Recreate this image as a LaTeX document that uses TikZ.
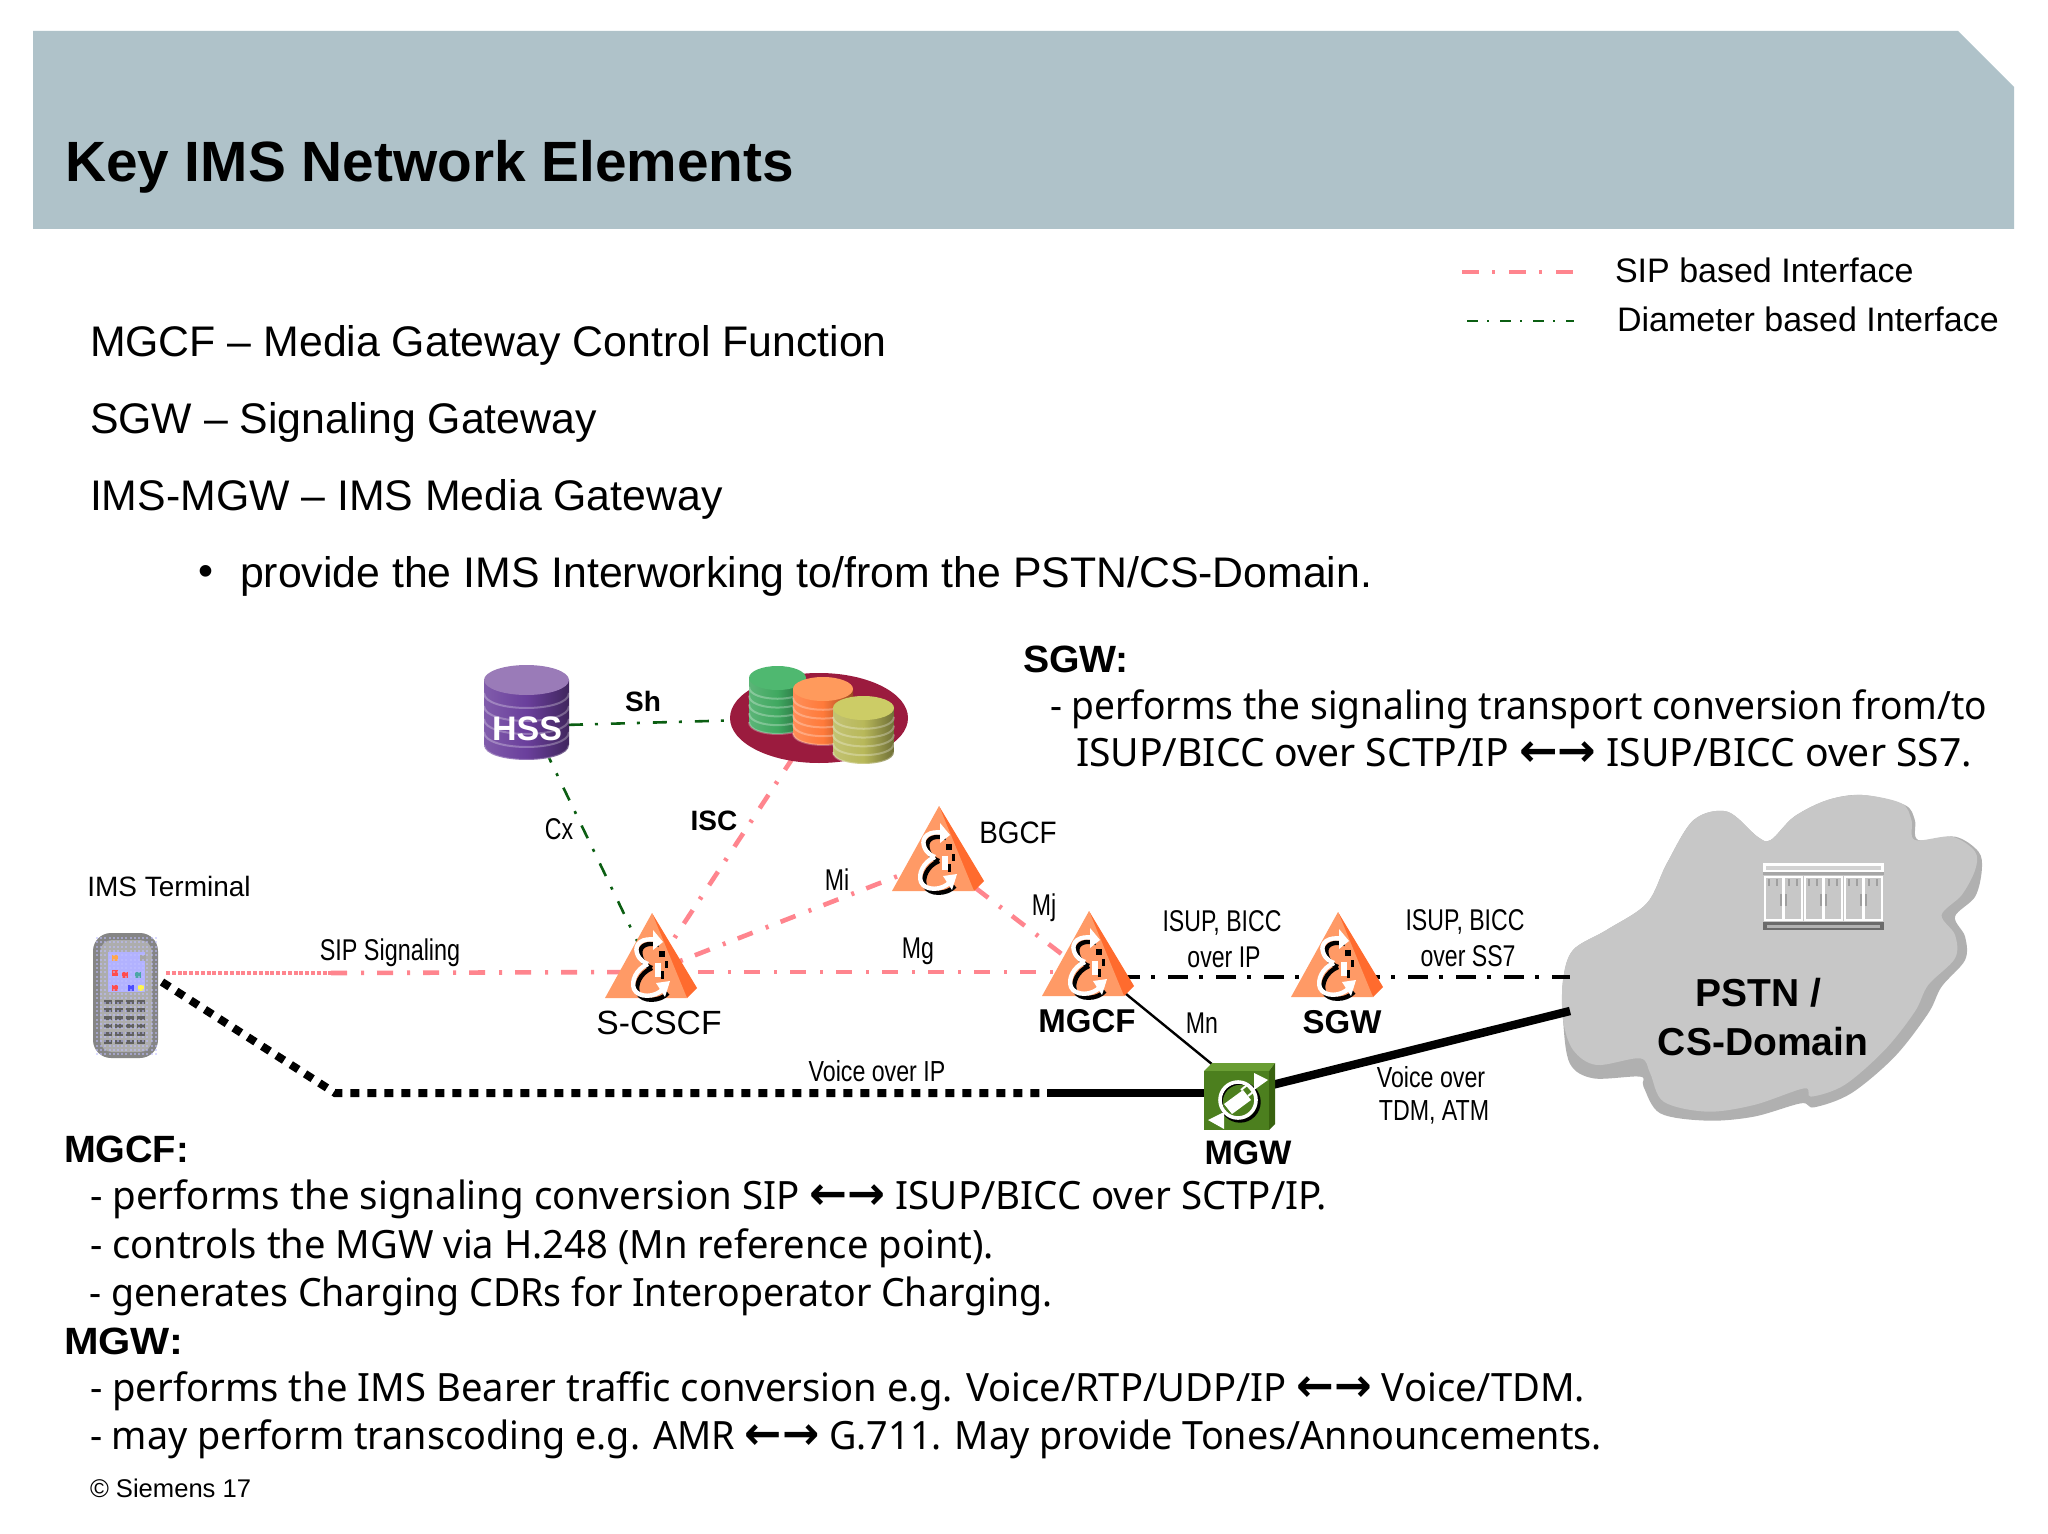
\documentclass[tikz,border=0pt]{standalone}
\usepackage{fontspec}
\usepackage{graphicx}
\setmainfont{Liberation Sans}
\newfontfamily\tah{Noto Sans}
\newfontfamily\arw{DejaVu Sans}
\usetikzlibrary{calc}
\definecolor{hdr}{HTML}{AFC2C9}
\definecolor{sip}{HTML}{FF858E}
\definecolor{dia}{HTML}{0B5E12}
\definecolor{trifront}{HTML}{FF9A66}
\definecolor{triside}{HTML}{FF6B2E}
\definecolor{asred}{HTML}{9B1B3E}
\definecolor{cgb}{HTML}{3FA860}\definecolor{cgt}{HTML}{4FB870}
\definecolor{cob}{HTML}{FF7A3A}\definecolor{cot}{HTML}{FF9A5C}
\definecolor{cyb}{HTML}{B8B85A}\definecolor{cyt}{HTML}{CCCC66}
\definecolor{hsb}{HTML}{6A3F9C}\definecolor{hst}{HTML}{9A7BB8}
\definecolor{mgf}{HTML}{4C7F1E}\definecolor{mgt}{HTML}{6A9E34}\definecolor{mgs}{HTML}{38620F}
\newcommand\fsz[1]{\fontsize{#1}{#1}\selectfont}
\newcommand\nar[1]{\scalebox{.77}[1]{#1}}
\newcommand\fitw[2]{\resizebox{#1pt}{\height}{#2}}
\newcommand\arrs{{\arw\bfseries\fsz{23}←→}}
\tikzset{
  txt/.style={inner sep=0pt,outer sep=0pt,anchor=center,font=\fsz{15}},
  body/.style={inner sep=0pt,outer sep=0pt,anchor=west,font=\fsz{21.4}},
  tbody/.style={inner sep=0pt,outer sep=0pt,anchor=base west,font=\tah\fsz{19.5}},
  tbold/.style={inner sep=0pt,outer sep=0pt,anchor=base west,font=\bfseries\fsz{19}},
  sipline/.style={draw=sip,line width=2.3pt,dash pattern=on 8pt off 7pt on 1.5pt off 6.5pt},
  dialine/.style={draw=dia,line width=1.3pt,dash pattern=on 7pt off 6pt on 1.5pt off 6.5pt},
  ss7line/.style={draw=black,line width=2.3pt,dash pattern=on 10pt off 5.5pt on 2pt off 6.5pt},
  voicedot/.style={draw=black,line width=4pt,dash pattern=on 4.5pt off 4pt},
  voice/.style={draw=black,line width=4.2pt},
  wstroke/.style={draw=white,line width=2.2pt},
  kstroke/.style={draw=black,line width=2.2pt},
}
\newcommand\imsicon[2]{%
\begin{scope}[shift={(#1,#2)}]
  \fill[triside] (0,0) -- (45,75) -- (35,85) -- (20,60) -- cycle;
  \fill[trifront] (0,0) -- (-47,85) -- (35,85) -- cycle;
  \draw[kstroke] (7,32) .. controls (-8,28) and (-14,35) .. (-11,44) .. controls (-9,51) and (-3,54) .. (0,55)
     (0,55) .. controls (-12,60) and (-17,72) .. (-14,80) .. controls (-10,89) and (8,89) .. (16,80);
  \draw[wstroke] (5,27) .. controls (-10,24) and (-18,31) .. (-15,40) .. controls (-13,47) and (-7,50) .. (-4,51)
     (-4,51) .. controls (-16,56) and (-21,68) .. (-18,76) .. controls (-14,85) and (3,85) .. (11,76);
  \fill[white] (1,17) -- (11,29) -- (1,37) -- cycle;
  \fill[white] (4,70) -- (18,68) -- (13,84) -- cycle;
  \fill[black] (7,38) rectangle (13,44);
  \fill[black] (13,48) rectangle (16,55);
  \fill[white] (3,50) rectangle (9,64);
  \fill[black] (9,58) rectangle (12,66);
\end{scope}}
\newcommand\cyl[7]{% x1 x2 ytop ybot ry body top
  \path[left color=#6!85!white,right color=#6!60!black,middle color=#6]
     (#1,#3) -- (#1,#4) .. controls (#1,{#4+1.33*#5}) and (#2,{#4+1.33*#5}) .. (#2,#4) -- (#2,#3) -- cycle;
  \foreach \s in {0.2,0.4,0.6,0.8,1.0}{
    \draw[white,opacity=.28,line width=1pt] (#1,{#3+\s*(#4-#3)}) .. controls (#1,{#3+\s*(#4-#3)+1.33*#5}) and (#2,{#3+\s*(#4-#3)+1.33*#5}) .. (#2,{#3+\s*(#4-#3)});}
  \fill[#7] ({(#1+#2)/2},#3) ellipse[x radius={(#2-#1)/2},y radius=#5];
}
\begin{document}
\begin{tikzpicture}[x=.5pt,y=-.5pt]
\useasboundingbox (0,0) rectangle (2048,1534);
\fill[white] (0,0) rectangle (2048,1534);
% header
\fill[hdr] (33,31) -- (1958,31) -- (2014,87) -- (2014,229) -- (33,229) -- cycle;
\node[txt,anchor=west,font=\bfseries\fsz{28.4}] (title) at (65,167) {Key IMS Network Elements};
% legend
\coordinate (la1) at (1462,272); \coordinate (la2) at (1574,272);
\coordinate (lb1) at (1467,321); \coordinate (lb2) at (1574,321);
\draw[sipline,line width=2.2pt,dash pattern=on 8.5pt off 6.5pt on 1.5pt off 7pt] (la1) -- (la2);
\draw[draw=dia,line width=1.2pt,dash pattern=on 5.5pt off 4.5pt on 1pt off 5.5pt] (lb1) -- (lb2);
\node[txt,anchor=west,font=\fsz{17}] (legsip) at (1615,270) {SIP based Interface};
\node[txt,anchor=west,font=\fsz{17}] (legdia) at (1617,319) {Diameter based Interface};
% main text
\node[body] (t1) at (90,345) {MGCF – Media Gateway Control Function};
\node[body] (t2) at (90,422) {SGW – Signaling Gateway};
\node[body] (t3) at (90,499) {IMS-MGW – IMS Media Gateway};
\node[body] (bul) at (198,576) {•};
\node[body] (t4) at (240,576) {provide the IMS Interworking to/from the PSTN/CS-Domain.};
% SGW text
\node[tbold] (s0) at (1023,672) {\fitw{53}{SGW:}};
\node[tbody] (s1) at (1050,719) {\fitw{468.5}{- performs the signaling transport conversion from/to}};
\node[tbody] (s2) at (1076,766) {\fitw{448}{ISUP/BICC over SCTP/IP \arrs{} ISUP/BICC over SS7.}};
% MGCF text
\node[tbold] (m0) at (64,1162) {\fitw{62.5}{MGCF:}};
\node[tbody] (m1) at (90,1209) {\fitw{618.5}{- performs the signaling conversion SIP \arrs{} ISUP/BICC over SCTP/IP.}};
\node[tbody] (m2) at (90,1258) {\fitw{452}{- controls the MGW via H.248 (Mn reference point).}};
\node[tbody] (m3) at (90,1306) {\fitw{481.5}{- generates Charging CDRs for Interoperator Charging.}};
\node[tbold] (g0) at (64,1354) {\fitw{59.5}{MGW:}};
\node[tbody] (g1) at (90,1401) {\fitw{747.5}{- performs the IMS Bearer traffic conversion e.g. Voice/RTP/UDP/IP \arrs{} Voice/TDM.}};
\node[tbody] (g2) at (90,1449) {\fitw{756}{- may perform transcoding e.g. AMR \arrs{} G.711. May provide Tones/Announcements.}};
\node[txt,anchor=west,font=\fsz{12.8}] (cr) at (90,1488) {© Siemens 17};
% connection points
\coordinate (hss) at (527,726);
\coordinate (hssb) at (527,712);
\coordinate (as) at (819,718);
\coordinate (scscf) at (652,972);
\coordinate (bgcf) at (939,860);
\coordinate (mgcf) at (1089,972);
\coordinate (mgcfj) at (1089,975);
\coordinate (mgcfr) at (1120,977);
\coordinate (mgcfn) at (1115,985);
\coordinate (phone1) at (166,973);
\coordinate (sipj) at (331,973);
\coordinate (phone2) at (162,982);
\coordinate (v1) at (335,1093);
\coordinate (v2) at (1047,1093);
\coordinate (mgw) at (1238,1093);
\coordinate (mgwr) at (1272,1085);
\coordinate (mgwt) at (1213,1065);
\coordinate (cl1) at (1570,977);
\coordinate (cl2) at (1570,1011);
% cloud
\begin{scope}[shift={(950,780)},xscale=.67,yscale=.3333]
\fill[gray!62] plot[smooth cycle,tension=.55] coordinates {(1362,45) (1425,75) (1440,120) (1445,180) (1500,170) (1535,215) (1540,270) (1530,350) (1500,410) (1515,470) (1515,540) (1480,620) (1460,700) (1410,830) (1345,940) (1290,982) (1270,970) (1200,1010) (1130,1022) (1060,1000) (1035,920) (1030,890) (960,895) (925,850) (915,720) (915,600) (930,510) (980,450) (1040,370) (1070,250) (1110,120) (1160,95) (1205,170) (1225,180) (1260,110) (1310,60)};
\fill[white!78!black] plot[smooth cycle,tension=.55] coordinates {(1362,45) (1420,70) (1435,120) (1440,180) (1495,170) (1530,215) (1530,270) (1510,345) (1480,405) (1500,465) (1500,535) (1460,615) (1440,695) (1395,810) (1335,915) (1285,950) (1275,925) (1200,975) (1130,995) (1065,965) (1045,880) (1030,835) (965,855) (930,810) (915,720) (915,600) (930,510) (980,450) (1040,370) (1070,250) (1110,120) (1160,95) (1205,170) (1225,180) (1260,110) (1310,60)};
\end{scope}
% rack
\fill[white] (1763,863) rectangle (1884,872);
\fill[gray!35] (1766,866) rectangle (1881,870);
\fill[gray!70] (1763,872) rectangle (1884,875);
\foreach \u in {0,1,2}{
  \begin{scope}[shift={({1764+\u*40},876)}]
    \fill[white] (0,0) rectangle (39,45);
    \fill[white!78!black] (2,2) rectangle (18,43);
    \fill[white!78!black] (21,2) rectangle (37,43);
    \foreach \k in {4,12,24,32}{\fill[gray!75] (\k,3) rectangle ({\k+2},10);}
    \fill[gray!75] (16,18) rectangle (18,30);
    \fill[gray!75] (21,18) rectangle (23,30);
  \end{scope}}
\fill[black!58] (1763,922) rectangle (1884,930);
\fill[gray!60] (1767,925) rectangle (1880,928);
% connectors
\draw[dialine] (hss) -- (as);
\draw[dialine] (hssb) -- (scscf);
\draw[sipline] (as) -- (scscf);
\draw[sipline] (scscf) -- (bgcf);
\draw[sipline] (bgcf) -- (mgcfj);
\draw[sipline] (sipj) -- (scscf);
\draw[sipline] (scscf) -- (mgcf);
\draw[draw=sip,line width=2.4pt,dash pattern=on 2pt off .9pt] (phone1) -- (sipj);
\draw[ss7line] (mgcfr) -- (cl1);
\draw[black,line width=1.2pt] (mgcfn) -- (mgwt);
\draw[voicedot] (phone2) -- (v1) -- (v2);
\draw[voice] (v2) -- (mgw);
\draw[voice] (mgwr) -- (cl2);
% AS group
\fill[asred] (as) ellipse[x radius=89,y radius=45];
\cyl{749}{806}{678}{722}{12}{cgb}{cgt}
\cyl{793}{853}{689}{733}{12}{cob}{cot}
\cyl{833}{894}{708}{752}{12}{cyb}{cyt}
% HSS
\cyl{484}{569}{680}{745}{15}{hsb}{hst}
\node[txt,text=white,font=\bfseries\fsz{17}] (hsslab) at (527,729) {HSS};
% icons
\imsicon{652}{913}
\imsicon{939}{806}
\imsicon{1089}{911}
\imsicon{1338}{912}
% phone
\fill[black!48,rounded corners=9pt] (93,933) rectangle (158,1058);
\fill[black!32,rounded corners=6pt] (100,940) rectangle (152,1052);
\fill[white!70!blue] (108,952) rectangle (145,992);
\foreach \c/\a/\b in {red/112/970,orange/112/955,red/122/972,teal/135/972,yellow/138/985,red/112/985,blue/128/985,gray/140/955}{\fill[\c!70!white] (\a,\b) rectangle ++(6,6);}
\foreach \i in {0,...,3}{\foreach \j in {0,...,5}{\fill[black!62] ({104+\i*11},{1000+\j*8}) rectangle ++(8,4);}}
\foreach \i in {0,...,14}{\foreach \j in {0,...,27}{\fill[blue!25!white,opacity=.55] ({96+\i*4.2},{937+\j*4.3}) rectangle ++(2,2);}}
% MGW
\fill[mgt] (1204,1071) -- (1212,1063) -- (1275,1063) -- (1269,1071) -- cycle;
\fill[mgs] (1269,1071) -- (1275,1063) -- (1275,1124) -- (1269,1130) -- cycle;
\fill[mgf] (1204,1071) rectangle (1269,1130);
\draw[black,line width=1.7pt] (1240,1102) circle[radius=19];
\draw[white,line width=1.8pt] (1238,1100) circle[radius=18];
\fill[white] (1254,1073) -- (1268,1080) -- (1254,1090) -- cycle;
\fill[white] (1224,1112) -- (1208,1120) -- (1224,1129) -- cycle;
\fill[white] (1224,1104) -- (1243,1090) -- (1251,1100) -- (1232,1114) -- cycle;
\draw[white,line width=1pt] (1241,1090) -- (1247,1085) -- (1253,1092) -- (1248,1096);
% labels
\node[txt,font=\fsz{14}] (limst) at (169,886) {IMS Terminal};
\node[txt] (lsip) at (390,953) {\scalebox{.78}[1]{SIP Signaling}};
\node[txt] (lcx) at (559,829) {\nar{Cx}};
\node[txt,font=\bfseries\fsz{14}] (lisc) at (714,821) {ISC};
\node[txt,font=\bfseries\fsz{14}] (lsh) at (643,701) {Sh};
\node[txt] (lmi) at (837,880) {\nar{Mi}};
\node[txt] (lmg) at (918,951) {\nar{Mg}};
\node[txt] (lmj) at (1044,908) {\nar{Mj}};
\node[txt] (lmn) at (1202,1023) {\nar{Mn}};
\node[txt,font=\fsz{16.8}] (lsc) at (659,1023) {S-CSCF};
\node[txt,font=\fsz{15.5}] (lbg) at (1018,833) {\scalebox{.9}[1]{BGCF}};
\node[txt,font=\bfseries\fsz{16.5}] (lmgcf) at (1087,1021) {MGCF};
\node[txt,font=\bfseries\fsz{16.5}] (lsgw) at (1342,1022) {SGW};
\node[txt,font=\bfseries\fsz{17}] (lmgw) at (1248,1153) {MGW};
\node[txt] (li1) at (1222,923) {\nar{ISUP, BICC}};
\node[txt] (li2) at (1224,957) {\nar{over IP}};
\node[txt] (li3) at (1465,922) {\nar{ISUP, BICC}};
\node[txt] (li4) at (1468,956) {\nar{over SS7}};
\node[txt,font=\fsz{14.5}] (lv1) at (877,1071) {\scalebox{.8}[1]{Voice over IP}};
\node[txt,font=\fsz{14.5}] (lv2) at (1431,1077) {\scalebox{.8}[1]{Voice over}};
\node[txt,font=\fsz{14.5}] (lv3) at (1434,1112) {\scalebox{.8}[1]{TDM, ATM}};
\node[txt,font=\bfseries\fsz{19.5}] (lp1) at (1758,993) {PSTN /};
\node[txt,font=\bfseries\fsz{19.5}] (lp2) at (1763,1042) {CS-Domain};
\end{tikzpicture}
\end{document}
